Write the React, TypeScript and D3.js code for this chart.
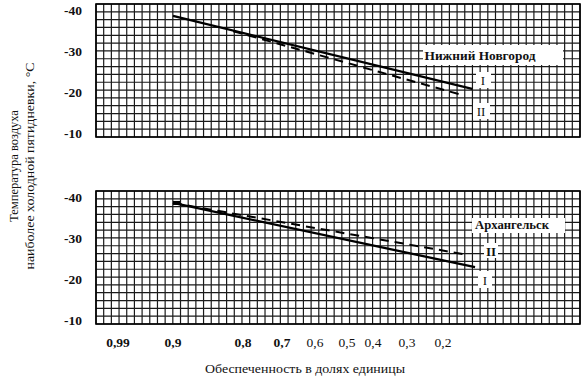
import React from "react";
import * as d3 from "d3";

// ---- data ----
const probTicks = [0.99, 0.9, 0.8, 0.7, 0.6, 0.5, 0.4, 0.3, 0.2];
const probTickLabels = ["0,99", "0,9", "0,8", "0,7", "0,6", "0,5", "0,4", "0,3", "0,2"];
const probTickBold = [true, true, true, true, false, false, false, false, false];
const tempTicks = [-40, -30, -20, -10];
const tempTickLabels = ["-40", "-30", "-20", "-10"];

const nnProbI = [0.9, 0.119];
const nnTempI = [-38.6, -20.9];
const nnProbII = [0.814, 0.147];
const nnTempII = [-34.9, -19.4];

const arProbI = [0.9, 0.111];
const arTempI = [-38.6, -23.0];
const arProbII = [0.9, 0.133];
const arTempII = [-38.6, -26.0];

const W = 588;
const H = 377;
const left = 96;
const right = 580;
const panelH = 133;
const tops = [4, 191];

const x = d3
  .scaleLinear()
  .domain(probTicks)
  .range([118, 173, 243, 282, 315, 347, 373, 407, 443]);

const y = d3.scaleLinear().domain([-41.5, -9.2]).range([0, panelH]);

const serif = "'Liberation Serif', 'DejaVu Serif', serif";

function Panel({ top, children }: { top: number; children?: React.ReactNode }) {
  const cols = 63;
  const rows = 17;
  const w = right - left;
  const vx = d3.range(cols + 1).map((i) => left + (i * w) / cols);
  const hy = d3.range(rows + 1).map((j) => top + (j * panelH) / rows);
  return (
    <g>
      {vx.map((vv, i) => (
        <line key={"v" + i} x1={vv} x2={vv} y1={top} y2={top + panelH} stroke="#1a1a1a" strokeWidth={1.2} />
      ))}
      {hy.map((hh, j) => (
        <line key={"h" + j} x1={left} x2={right} y1={hh} y2={hh} stroke="#1a1a1a" strokeWidth={1.2} />
      ))}
      <rect x={left} y={top} width={w} height={panelH} fill="none" stroke="#000" strokeWidth={1.6} />
      {tempTicks.map((t, i) => (
        <text
          key={"t" + i}
          x={82}
          y={top + y(t)}
          dy="0.35em"
          textAnchor="end"
          fontFamily={serif}
          fontWeight="bold"
          fontSize={13.5}
          fill="#111"
        >
          {tempTickLabels[i]}
        </text>
      ))}
      {children}
    </g>
  );
}

function series(probs: number[], temps: number[], top: number) {
  const line = d3
    .line<number>()
    .x((_, i) => x(probs[i]))
    .y((_, i) => top + y(temps[i]));
  return line(probs) || "";
}

function Label({ bx, by, w, h, tx, ty, text, size, bold, len }: any) {
  return (
    <g>
      <rect x={bx} y={by} width={w} height={h} fill="#fff" />
      <text
        x={tx}
        y={ty}
        dy="0.35em"
        textAnchor="middle"
        fontFamily={serif}
        fontWeight={bold ? "bold" : "normal"}
        fontSize={size}
        fill="#111"
        textLength={len}
        lengthAdjust={len ? "spacingAndGlyphs" : undefined}
      >
        {text}
      </text>
    </g>
  );
}

export default function App() {
  const t0 = tops[0];
  const t1 = tops[1];
  return (
    <svg
      width={W}
      height={H}
      style={{ position: "absolute", left: 0, top: 0, background: "#fff" }}
    >
      <rect x={0} y={0} width={W} height={H} fill="#fff" />
      <Panel top={t0}>
        <Label bx={423} by={45} w={140} h={20} tx={480} ty={55} text="Нижний Новгород" size={13} bold len={111} />
        <Label bx={476} by={72} w={15} h={16} tx={483} ty={80} text="I" size={13} />
        <Label bx={473} by={103} w={17} h={16} tx={481} ty={111} text="II" size={13} />
        <path d={series(nnProbI, nnTempI, t0)} fill="none" stroke="#000" strokeWidth={2.3} />
        <path d={series(nnProbII, nnTempII, t0)} fill="none" stroke="#000" strokeWidth={2} strokeDasharray="9 6" />
      </Panel>
      <Panel top={t1}>
        <Label bx={472} by={218} w={93} h={15} tx={512} ty={225} text="Архангельск" size={12.5} bold len={74} />
        <Label bx={484} by={243} w={14} h={15} tx={491} ty={251} text="II" size={13} bold />
        <Label bx={478} by={271} w={14} h={17} tx={485} ty={280} text="I" size={13} />
        <path d={series(arProbI, arTempI, t1)} fill="none" stroke="#000" strokeWidth={2.3} />
        <path d={series(arProbII, arTempII, t1)} fill="none" stroke="#000" strokeWidth={2} strokeDasharray="9 6" />
        <rect x={x(arProbI[0])} y={t1 + y(arTempI[0]) - 2} width={7} height={4} fill="#000" />
      </Panel>
      {probTicks.map((p, i) => (
        <text
          key={"p" + i}
          x={x(p)}
          y={342}
          dy="0.35em"
          textAnchor="middle"
          fontFamily={serif}
          fontWeight={probTickBold[i] ? "bold" : "normal"}
          fontSize={13.5}
          fill="#111"
        >
          {probTickLabels[i]}
        </text>
      ))}
      <text
        x={305}
        y={369}
        dy="0.35em"
        textAnchor="middle"
        fontFamily={serif}
        fontSize={12.5}
        fill="#111"
        textLength={200}
        lengthAdjust="spacingAndGlyphs"
      >
        Обеспеченность в долях единицы
      </text>
      <g transform="translate(14,166) rotate(-90)">
        <text x={0} y={0} dy="0.35em" textAnchor="middle" fontFamily={serif} fontSize={12.5} fill="#111">
          Температура воздуха
        </text>
      </g>
      <g transform="translate(30,166) rotate(-90)">
        <text
          x={0}
          y={0}
          dy="0.35em"
          textAnchor="middle"
          fontFamily={serif}
          fontSize={12.5}
          fill="#111"
          textLength={207}
          lengthAdjust="spacingAndGlyphs"
        >
          наиболее холодной пятидневки, °C
        </text>
      </g>
    </svg>
  );
}
